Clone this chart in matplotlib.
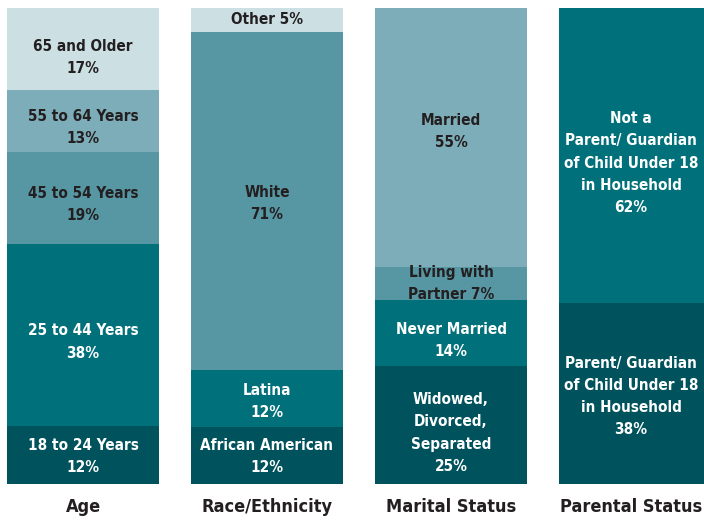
import numpy as np
import matplotlib
matplotlib.use("Agg")
import matplotlib.pyplot as plt

plt.rcParams['font.family'] = ['DejaVu Sans']
plt.rcParams['font.stretch'] = 'condensed'

categories = ["Age", "Race/Ethnicity", "Marital Status", "Parental Status"]

# segments listed bottom to top
age_labels = ["18 to 24 Years\n12%", "25 to 44 Years\n38%", "45 to 54 Years\n19%",
              "55 to 64 Years\n13%", "65 and Older\n17%"]
age_values = [12, 38, 19, 13, 17]

race_labels = ["African American\n12%", "Latina\n12%", "White\n71%", "Other 5%"]
race_values = [12, 12, 71, 5]

marital_labels = ["Widowed,\nDivorced,\nSeparated\n25%", "Never Married\n14%",
                  "Living with\nPartner 7%", "Married\n55%"]
marital_values = [25, 14, 7, 55]

parent_labels = ["Parent/ Guardian\nof Child Under 18\nin Household\n38%",
                 "Not a\nParent/ Guardian\nof Child Under 18\nin Household\n62%"]
parent_values = [38, 62]

DARK = "#00525c"
TEAL = "#00707a"
MID = "#5796a3"
LIGHT = "#7dadb8"
PALE = "#cce0e4"
age_colors = [DARK, TEAL, MID, LIGHT, PALE]
race_colors = [DARK, TEAL, MID, PALE]
marital_colors = [DARK, TEAL, MID, LIGHT]
parent_colors = [DARK, TEAL]

# label nudges in pixels (down is positive), as placed in the original
age_nudge = [1, 7, 6.5, 6.5, 9]
race_nudge = [1, 3.5, 2.5, 0]
marital_nudge = [8, 7, 0, -6]
parent_nudge = [3, 7.5]

groups = [
    (age_values, age_labels, age_colors, age_nudge),
    (race_values, race_labels, race_colors, race_nudge),
    (marital_values, marital_labels, marital_colors, marital_nudge),
    (parent_values, parent_labels, parent_colors, parent_nudge),
]

fig = plt.figure(figsize=(7.04, 5.21), dpi=100)
ax = fig.add_axes([0, 37 / 521, 1, 476 / 521])
width = 152 / 184
px = 100 / 476

for i, (vals, labs, cols, nudges) in enumerate(groups):
    total = float(sum(vals))
    bottom = 0.0
    tx = i - 0.022 if i == 3 else i
    for v, lab, c, n in zip(vals, labs, cols, nudges):
        h = v / total * 100
        ax.bar(i, h, bottom=bottom, width=width, color=c, edgecolor="none")
        txt_col = "white" if c in (DARK, TEAL) else "#231f20"
        ax.text(tx, bottom + h / 2 - n * px, lab, ha="center", va="center",
                color=txt_col, fontsize=11, fontweight="bold",
                fontstretch="condensed", linespacing=1.6)
        bottom += h
    ax.text(tx, -4.8, categories[i], ha="center", va="center", color="#231f20",
            fontsize=13, fontweight="bold", fontstretch="condensed", clip_on=False)

ax.set_xlim(-83 / 184, (704 - 83) / 184)
ax.set_ylim(0, 100)
ax.axis("off")

fig.savefig("out.png", dpi=100)
